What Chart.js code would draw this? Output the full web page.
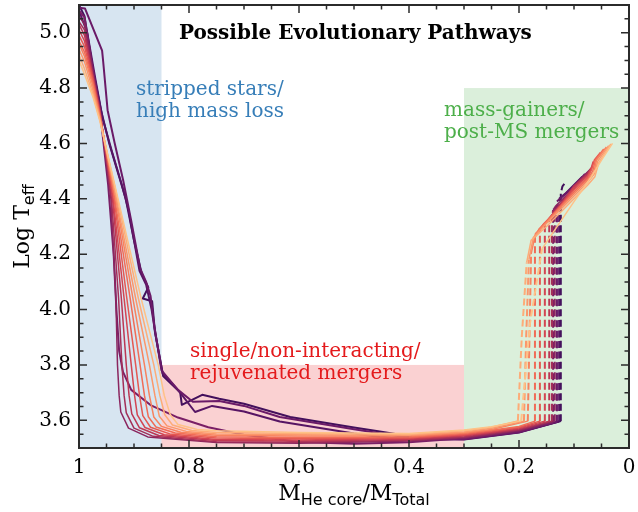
<!DOCTYPE html>
<html>
<head>
<meta charset="UTF-8">
<title>Possible Evolutionary Pathways</title>
<script src="https://cdn.jsdelivr.net/npm/chart.js"></script>
<style>
  body { margin: 0; background: #fff; }
  canvas { display: block; }
</style>
</head>
<body>
<canvas id="paths" width="638" height="512"></canvas>
<script>
// axis ticks
const xTickValues = [0, 0.2, 0.4, 0.6, 0.8, 1];
const xTickLabels = ['0', '0.2', '0.4', '0.6', '0.8', '1'];
const yTickValues = [3.6, 3.8, 4.0, 4.2, 4.4, 4.6, 4.8, 5.0];
const yTickLabels = ['3.6', '3.8', '4.0', '4.2', '4.4', '4.6', '4.8', '5.0'];

// shaded pathway regions: [x from, x to, y top]
const regionBounds = [[1, 0.85, 5.1], [0.85, 0.3, 3.8], [0.3, 0, 4.8]];
const regionNames = [['stripped stars/', 'high mass loss'],
                     ['single/non-interacting/', 'rejuvenated mergers'],
                     ['mass-gainers/', 'post-MS mergers']];

// tracks, light -> dark.  part 1: contraction + cool branch (solid)
const lowerTracks = [
  [[1,4.90],[0.99,4.85],[0.975,4.77],[0.962,4.68],[0.929,4.40],[0.887,4.04],[0.856,3.80],[0.845,3.69],[0.834,3.62],[0.82,3.585],[0.785,3.567],[0.75,3.562],[0.6,3.556],[0.4,3.552],[0.3,3.565],[0.25,3.577],[0.196,3.598]],
  [[1,4.92],[0.99,4.87],[0.975,4.78],[0.962,4.685],[0.930,4.40],[0.892,4.04],[0.864,3.80],[0.853,3.69],[0.844,3.62],[0.83,3.583],[0.795,3.563],[0.75,3.556],[0.6,3.552],[0.4,3.549],[0.3,3.562],[0.25,3.575],[0.202,3.598]],
  [[1,4.94],[0.99,4.895],[0.975,4.795],[0.962,4.69],[0.932,4.40],[0.897,4.04],[0.872,3.80],[0.862,3.69],[0.854,3.615],[0.84,3.58],[0.805,3.56],[0.75,3.551],[0.6,3.548],[0.4,3.546],[0.3,3.558],[0.25,3.571],[0.191,3.597]],
  [[1,4.96],[0.99,4.915],[0.975,4.81],[0.962,4.695],[0.933,4.40],[0.902,4.04],[0.881,3.80],[0.872,3.69],[0.864,3.612],[0.85,3.578],[0.815,3.557],[0.75,3.546],[0.6,3.543],[0.4,3.543],[0.3,3.555],[0.25,3.567],[0.184,3.597]],
  [[1,4.97],[0.99,4.93],[0.975,4.82],[0.962,4.70],[0.935,4.40],[0.907,4.04],[0.889,3.80],[0.881,3.69],[0.874,3.613],[0.86,3.576],[0.825,3.554],[0.75,3.541],[0.6,3.538],[0.4,3.54],[0.3,3.552],[0.25,3.564],[0.2,3.578],[0.171,3.597]],
  [[1,4.99],[0.99,4.95],[0.975,4.83],[0.962,4.705],[0.936,4.40],[0.913,4.04],[0.897,3.80],[0.89,3.69],[0.884,3.617],[0.87,3.575],[0.835,3.551],[0.75,3.536],[0.6,3.533],[0.4,3.537],[0.3,3.549],[0.25,3.561],[0.2,3.575],[0.162,3.597]],
  [[1,5.01],[0.99,4.97],[0.975,4.84],[0.962,4.71],[0.938,4.40],[0.918,4.04],[0.905,3.80],[0.899,3.69],[0.894,3.62],[0.88,3.574],[0.845,3.548],[0.75,3.531],[0.6,3.529],[0.4,3.534],[0.3,3.546],[0.25,3.558],[0.2,3.572],[0.153,3.597]],
  [[1,5.03],[0.99,4.99],[0.975,4.845],[0.962,4.715],[0.939,4.40],[0.923,4.04],[0.914,3.80],[0.909,3.69],[0.904,3.623],[0.89,3.573],[0.855,3.545],[0.75,3.527],[0.6,3.525],[0.4,3.531],[0.3,3.543],[0.25,3.555],[0.2,3.569],[0.145,3.597]],
  [[1,5.04],[0.99,5.01],[0.975,4.85],[0.962,4.72],[0.941,4.40],[0.928,4.04],[0.922,3.80],[0.918,3.69],[0.914,3.627],[0.9,3.572],[0.865,3.542],[0.75,3.523],[0.6,3.521],[0.4,3.528],[0.3,3.54],[0.25,3.552],[0.2,3.566],[0.140,3.597]],
  [[1,5.06],[0.99,5.03],[0.975,4.86],[0.962,4.725],[0.942,4.40],[0.933,4.04],[0.930,3.80],[0.927,3.69],[0.924,3.63],[0.91,3.572],[0.875,3.54],[0.75,3.52],[0.6,3.517],[0.4,3.525],[0.3,3.537],[0.25,3.549],[0.2,3.563],[0.135,3.597]],
  [[1,5.08],[0.99,5.055],[0.975,4.87],[0.962,4.72],[0.947,4.45],[0.937,4.2],[0.932,4.0],[0.927,3.85],[0.92,3.775],[0.905,3.71],[0.87,3.655],[0.82,3.61],[0.765,3.575],[0.7,3.548],[0.6,3.522],[0.5,3.515],[0.4,3.521],[0.3,3.535],[0.2,3.561],[0.138,3.593]],
  [[1,5.09],[0.989,5.087],[0.958,4.935],[0.956,4.895],[0.948,4.72],[0.935,4.6],[0.92,4.47],[0.905,4.32],[0.889,4.15],[0.878,4.1],[0.87,4.05],[0.863,3.94],[0.85,3.78],[0.82,3.71],[0.793,3.667],[0.745,3.67],[0.7,3.652],[0.635,3.612],[0.5,3.568],[0.4,3.537],[0.3,3.532],[0.2,3.557],[0.131,3.595]],
  [[1,5.08],[0.985,5.0],[0.97,4.83],[0.957,4.69],[0.94,4.57],[0.922,4.45],[0.91,4.36],[0.89,4.14],[0.878,4.09],[0.868,4.0],[0.86,3.9],[0.848,3.77],[0.82,3.71],[0.789,3.63],[0.758,3.652],[0.7,3.632],[0.635,3.596],[0.5,3.552],[0.453,3.54],[0.38,3.531],[0.3,3.531],[0.2,3.556],[0.127,3.596]],
  [[1,5.1],[0.99,5.06],[0.975,4.87],[0.96,4.72],[0.945,4.6],[0.93,4.5],[0.915,4.4],[0.9,4.25],[0.886,4.13],[0.874,4.08],[0.884,4.04],[0.867,4.03],[0.862,3.92],[0.847,3.76],[0.816,3.70],[0.813,3.656],[0.776,3.692],[0.745,3.678],[0.7,3.66],[0.616,3.612],[0.5,3.574],[0.453,3.56],[0.38,3.536],[0.3,3.533],[0.2,3.558],[0.124,3.597]]
];

// part 2: rapid heating (dashed)
const dashedTracks = [
  [[0.196,3.598],[0.18,3.95],[0.158,4.22]],
  [[0.202,3.598],[0.195,3.9],[0.186,4.17]],
  [[0.191,3.597],[0.187,3.9],[0.182,4.18]],
  [[0.184,3.597],[0.181,3.9],[0.178,4.20]],
  [[0.171,3.597],[0.171,4.26]],
  [[0.162,3.597],[0.162,4.29]],
  [[0.153,3.597],[0.153,4.31]],
  [[0.145,3.597],[0.145,4.33]],
  [[0.140,3.597],[0.140,4.35]],
  [[0.135,3.597],[0.135,4.37]],
  [[0.138,3.593],[0.138,4.36]],
  [[0.131,3.595],[0.131,4.39]],
  [[0.127,3.596],[0.127,4.40]],
  [[0.124,3.597],[0.124,4.42],[0.121,4.445],[0.117,4.455]]
];

// part 3: hot branch (solid)
const upperTracks = [
  [[0.158,4.22],[0.1,4.39],[0.07,4.475],[0.05,4.54],[0.03,4.60]],
  [[0.186,4.17],[0.178,4.25],[0.15,4.30],[0.1,4.40],[0.075,4.45],[0.062,4.48],[0.055,4.53],[0.033,4.598]],
  [[0.182,4.18],[0.174,4.26],[0.148,4.315],[0.1,4.41],[0.075,4.46],[0.063,4.49],[0.057,4.535],[0.037,4.592]],
  [[0.178,4.20],[0.17,4.275],[0.145,4.325],[0.1,4.418],[0.075,4.467],[0.064,4.495],[0.059,4.54],[0.041,4.587]],
  [[0.171,4.26],[0.164,4.29],[0.14,4.34],[0.1,4.425],[0.075,4.473],[0.066,4.5],[0.061,4.54],[0.046,4.58]],
  [[0.162,4.29],[0.155,4.31],[0.13,4.36],[0.1,4.432],[0.075,4.478],[0.068,4.505],[0.063,4.54],[0.052,4.567]],
  [[0.153,4.31],[0.145,4.33],[0.125,4.375],[0.1,4.44],[0.075,4.483],[0.069,4.51],[0.065,4.535]],
  [[0.145,4.33],[0.137,4.35],[0.12,4.39],[0.1,4.447],[0.075,4.488],[0.069,4.512]],
  [[0.14,4.35],[0.132,4.365],[0.115,4.405],[0.09,4.462],[0.072,4.5]],
  [[0.135,4.37],[0.128,4.385],[0.11,4.42],[0.09,4.468],[0.07,4.508]],
  [[0.138,4.36],[0.125,4.38],[0.1,4.44],[0.075,4.495]],
  [[0.131,4.39],[0.12,4.41],[0.1,4.445],[0.08,4.49]],
  [[0.127,4.40],[0.115,4.42],[0.095,4.46],[0.085,4.48]],
  []
];

// styles
const trackColors = ['#fec287','#fdac78','#fb976b','#f7825f','#f06c57','#e45852','#d34552','#bc3754','#a32f59','#8b265f',
                     '#7a1f66','#6a1a68','#571564','#43105c'];
const regionFill = ['rgba(55,126,184,0.2)', 'rgba(228,26,28,0.2)', 'rgba(77,175,74,0.2)'];
const regionText = ['#377eb8', '#e41a1c', '#4daf4a'];
const frameColor = '#2b2b2b';

const pts = arr => arr.map(p => ({ x: p[0], y: p[1] }));
const datasets = [];
trackColors.forEach((col, i) => {
  const lw = i >= 10 ? 2 : 1.5;
  const base = { borderColor: col, pointRadius: 0, fill: false, tension: 0, borderJoinStyle: 'round' };
  datasets.push({ ...base, data: pts(lowerTracks[i]), borderWidth: lw });
  datasets.push({ ...base, data: pts(dashedTracks[i]), borderWidth: 2, borderDash: [7, 3.5], borderCapStyle: 'butt' });
  if (upperTracks[i].length) datasets.push({ ...base, data: pts(upperTracks[i]), borderWidth: lw });
});

const decor = {
  id: 'decor',
  beforeDatasetsDraw(chart) {
    const { ctx, scales: { x, y } } = chart;
    ctx.save();
    regionBounds.forEach((r, i) => {
      const x0 = x.getPixelForValue(r[0]), x1 = x.getPixelForValue(r[1]);
      const yt = y.getPixelForValue(r[2]), yb = y.getPixelForValue(3.5);
      ctx.fillStyle = regionFill[i];
      ctx.fillRect(x0, yt, x1 - x0, yb - yt);
    });
    ctx.restore();
  },
  afterDatasetsDraw(chart) {
    const { ctx, chartArea: a, scales: { x, y } } = chart;
    ctx.save();
    // region labels
    ctx.font = '20px "DejaVu Serif"';
    ctx.textBaseline = 'alphabetic';
    const spots = [[136, 95], [190, 357], [444, 116]];
    regionNames.forEach((lines, i) => {
      ctx.fillStyle = regionText[i];
      lines.forEach((t, k) => ctx.fillText(t, spots[i][0], spots[i][1] + k * 22));
    });
    ctx.fillStyle = '#000';
    ctx.font = 'bold 20px "DejaVu Serif"';
    ctx.fillText('Possible Evolutionary Pathways', 179, 39);

    // frame
    ctx.strokeStyle = frameColor;
    ctx.lineWidth = 2;
    ctx.strokeRect(a.left, a.top, a.right - a.left, a.bottom - a.top);
    // inward ticks on all sides
    ctx.lineWidth = 1.5;
    ctx.beginPath();
    for (let k = 0; k <= 20; k++) {
      const v = k * 0.05, px = x.getPixelForValue(v), len = k % 4 === 0 ? 8 : 4.5;
      ctx.moveTo(px, a.bottom); ctx.lineTo(px, a.bottom - len);
      ctx.moveTo(px, a.top); ctx.lineTo(px, a.top + len);
    }
    for (let k = 0; k <= 32; k++) {
      const v = 3.5 + k * 0.05;
      if (v > 5.1001) break;
      const py = y.getPixelForValue(v);
      const len = Math.abs(v * 5 - Math.round(v * 5)) < 1e-6 ? 8 : 4.5;
      ctx.moveTo(a.left, py); ctx.lineTo(a.left + len, py);
      ctx.moveTo(a.right, py); ctx.lineTo(a.right - len, py);
    }
    ctx.stroke();

    // axis titles with subscripts
    const serif = '22px "DejaVu Serif"', sans = '16px "DejaVu Sans"';
    const parts = [['M', serif, 0], ['He core', sans, 5], ['/M', serif, 0], ['Total', sans, 5]];
    let w = 0;
    parts.forEach(p => { ctx.font = p[1]; w += ctx.measureText(p[0]).width; });
    let cx = (a.left + a.right) / 2 - w / 2;
    ctx.fillStyle = '#000';
    parts.forEach(p => { ctx.font = p[1]; ctx.fillText(p[0], cx, 500 + p[2]); cx += ctx.measureText(p[0]).width; });

    const yparts = [['Log T', serif, 0], ['eff', sans, 5]];
    w = 0;
    yparts.forEach(p => { ctx.font = p[1]; w += ctx.measureText(p[0]).width; });
    ctx.translate(29, (a.top + a.bottom) / 2);
    ctx.rotate(-Math.PI / 2);
    cx = -w / 2;
    yparts.forEach(p => { ctx.font = p[1]; ctx.fillText(p[0], cx, p[2]); cx += ctx.measureText(p[0]).width; });
    ctx.restore();
  }
};

new Chart(document.getElementById('paths').getContext('2d'), {
  type: 'line',
  data: { datasets },
  options: {
    responsive: false,
    animation: false,
    layout: { padding: { left: 0, right: 9, top: 5, bottom: 0 } },
    plugins: { legend: { display: false }, tooltip: { enabled: false } },
    scales: {
      x: {
        type: 'linear', reverse: true, min: 0, max: 1,
        grid: { display: false, drawTicks: false },
        border: { display: false },
        afterBuildTicks: s => { s.ticks = xTickValues.map(v => ({ value: v })); },
        afterFit: s => { s.height = 64; s.paddingLeft = 0; s.paddingRight = 0; },
        ticks: {
          font: { family: 'DejaVu Serif', size: 20 }, color: '#000', padding: 8,
          maxRotation: 0, autoSkip: false,
          callback: (v, i) => xTickLabels[xTickValues.indexOf(v)] ?? ''
        }
      },
      y: {
        type: 'linear', min: 3.5, max: 5.1,
        grid: { display: false, drawTicks: false },
        border: { display: false },
        afterBuildTicks: s => { s.ticks = yTickValues.map(v => ({ value: v })); },
        afterFit: s => { s.width = 79; s.paddingTop = 0; s.paddingBottom = 0; },
        ticks: {
          font: { family: 'DejaVu Serif', size: 20 }, color: '#000', padding: 8,
          autoSkip: false,
          callback: (v, i) => yTickLabels[i]
        }
      }
    }
  },
  plugins: [decor]
});
</script>
</body>
</html>
